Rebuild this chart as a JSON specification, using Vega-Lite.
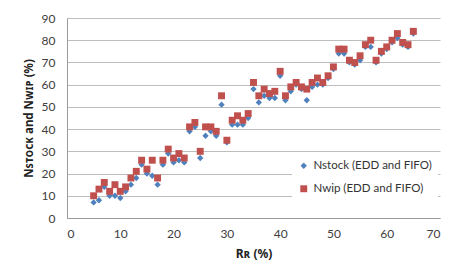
{
  "$schema": "https://vega.github.io/schema/vega-lite/v6.json",
  "autosize": {"type": "none"},
  "padding": {"left": 67, "top": 18, "right": 13, "bottom": 60},
  "width": 373,
  "height": 200,
  "background": "white",
  "config": {
    "font": "Lato",
    "view": {"stroke": null}
  },
  "data": {
    "values": [
      {"R": 5, "series": "Nstock (EDD and FIFO)", "N": 7},
      {"R": 6, "series": "Nstock (EDD and FIFO)", "N": 8},
      {"R": 7, "series": "Nstock (EDD and FIFO)", "N": 14},
      {"R": 8, "series": "Nstock (EDD and FIFO)", "N": 10},
      {"R": 9, "series": "Nstock (EDD and FIFO)", "N": 10},
      {"R": 10, "series": "Nstock (EDD and FIFO)", "N": 9},
      {"R": 11, "series": "Nstock (EDD and FIFO)", "N": 12},
      {"R": 12, "series": "Nstock (EDD and FIFO)", "N": 15},
      {"R": 13, "series": "Nstock (EDD and FIFO)", "N": 18},
      {"R": 14, "series": "Nstock (EDD and FIFO)", "N": 24},
      {"R": 15, "series": "Nstock (EDD and FIFO)", "N": 20},
      {"R": 16, "series": "Nstock (EDD and FIFO)", "N": 19},
      {"R": 17, "series": "Nstock (EDD and FIFO)", "N": 15},
      {"R": 18, "series": "Nstock (EDD and FIFO)", "N": 24},
      {"R": 19, "series": "Nstock (EDD and FIFO)", "N": 29},
      {"R": 20, "series": "Nstock (EDD and FIFO)", "N": 25},
      {"R": 21, "series": "Nstock (EDD and FIFO)", "N": 26},
      {"R": 22, "series": "Nstock (EDD and FIFO)", "N": 25},
      {"R": 23, "series": "Nstock (EDD and FIFO)", "N": 39},
      {"R": 24, "series": "Nstock (EDD and FIFO)", "N": 41},
      {"R": 25, "series": "Nstock (EDD and FIFO)", "N": 27},
      {"R": 26, "series": "Nstock (EDD and FIFO)", "N": 37},
      {"R": 27, "series": "Nstock (EDD and FIFO)", "N": 39},
      {"R": 28, "series": "Nstock (EDD and FIFO)", "N": 37},
      {"R": 29, "series": "Nstock (EDD and FIFO)", "N": 51},
      {"R": 30, "series": "Nstock (EDD and FIFO)", "N": 34},
      {"R": 31, "series": "Nstock (EDD and FIFO)", "N": 42},
      {"R": 32, "series": "Nstock (EDD and FIFO)", "N": 42},
      {"R": 33, "series": "Nstock (EDD and FIFO)", "N": 42},
      {"R": 34, "series": "Nstock (EDD and FIFO)", "N": 45},
      {"R": 35, "series": "Nstock (EDD and FIFO)", "N": 58},
      {"R": 36, "series": "Nstock (EDD and FIFO)", "N": 52},
      {"R": 37, "series": "Nstock (EDD and FIFO)", "N": 55},
      {"R": 38, "series": "Nstock (EDD and FIFO)", "N": 54},
      {"R": 39, "series": "Nstock (EDD and FIFO)", "N": 54},
      {"R": 40, "series": "Nstock (EDD and FIFO)", "N": 64},
      {"R": 41, "series": "Nstock (EDD and FIFO)", "N": 53},
      {"R": 42, "series": "Nstock (EDD and FIFO)", "N": 57},
      {"R": 43, "series": "Nstock (EDD and FIFO)", "N": 60},
      {"R": 44, "series": "Nstock (EDD and FIFO)", "N": 58},
      {"R": 45, "series": "Nstock (EDD and FIFO)", "N": 53},
      {"R": 46, "series": "Nstock (EDD and FIFO)", "N": 59},
      {"R": 47, "series": "Nstock (EDD and FIFO)", "N": 60},
      {"R": 48, "series": "Nstock (EDD and FIFO)", "N": 60},
      {"R": 49, "series": "Nstock (EDD and FIFO)", "N": 63},
      {"R": 50, "series": "Nstock (EDD and FIFO)", "N": 67},
      {"R": 51, "series": "Nstock (EDD and FIFO)", "N": 74},
      {"R": 52, "series": "Nstock (EDD and FIFO)", "N": 74},
      {"R": 53, "series": "Nstock (EDD and FIFO)", "N": 70},
      {"R": 54, "series": "Nstock (EDD and FIFO)", "N": 69},
      {"R": 55, "series": "Nstock (EDD and FIFO)", "N": 71},
      {"R": 56, "series": "Nstock (EDD and FIFO)", "N": 77},
      {"R": 57, "series": "Nstock (EDD and FIFO)", "N": 77},
      {"R": 58, "series": "Nstock (EDD and FIFO)", "N": 70},
      {"R": 59, "series": "Nstock (EDD and FIFO)", "N": 74},
      {"R": 60, "series": "Nstock (EDD and FIFO)", "N": 76},
      {"R": 61, "series": "Nstock (EDD and FIFO)", "N": 79},
      {"R": 62, "series": "Nstock (EDD and FIFO)", "N": 81},
      {"R": 63, "series": "Nstock (EDD and FIFO)", "N": 78},
      {"R": 64, "series": "Nstock (EDD and FIFO)", "N": 77},
      {"R": 65, "series": "Nstock (EDD and FIFO)", "N": 83},
      {"R": 5, "series": "Nwip (EDD and FIFO)", "N": 10},
      {"R": 6, "series": "Nwip (EDD and FIFO)", "N": 13},
      {"R": 7, "series": "Nwip (EDD and FIFO)", "N": 16},
      {"R": 8, "series": "Nwip (EDD and FIFO)", "N": 12},
      {"R": 9, "series": "Nwip (EDD and FIFO)", "N": 15},
      {"R": 10, "series": "Nwip (EDD and FIFO)", "N": 12},
      {"R": 11, "series": "Nwip (EDD and FIFO)", "N": 14},
      {"R": 12, "series": "Nwip (EDD and FIFO)", "N": 18},
      {"R": 13, "series": "Nwip (EDD and FIFO)", "N": 21},
      {"R": 14, "series": "Nwip (EDD and FIFO)", "N": 26},
      {"R": 15, "series": "Nwip (EDD and FIFO)", "N": 22},
      {"R": 16, "series": "Nwip (EDD and FIFO)", "N": 26},
      {"R": 17, "series": "Nwip (EDD and FIFO)", "N": 18},
      {"R": 18, "series": "Nwip (EDD and FIFO)", "N": 26},
      {"R": 19, "series": "Nwip (EDD and FIFO)", "N": 31},
      {"R": 20, "series": "Nwip (EDD and FIFO)", "N": 27},
      {"R": 21, "series": "Nwip (EDD and FIFO)", "N": 29},
      {"R": 22, "series": "Nwip (EDD and FIFO)", "N": 27},
      {"R": 23, "series": "Nwip (EDD and FIFO)", "N": 41},
      {"R": 24, "series": "Nwip (EDD and FIFO)", "N": 43},
      {"R": 25, "series": "Nwip (EDD and FIFO)", "N": 30},
      {"R": 26, "series": "Nwip (EDD and FIFO)", "N": 41},
      {"R": 27, "series": "Nwip (EDD and FIFO)", "N": 41},
      {"R": 28, "series": "Nwip (EDD and FIFO)", "N": 39},
      {"R": 29, "series": "Nwip (EDD and FIFO)", "N": 55},
      {"R": 30, "series": "Nwip (EDD and FIFO)", "N": 35},
      {"R": 31, "series": "Nwip (EDD and FIFO)", "N": 44},
      {"R": 32, "series": "Nwip (EDD and FIFO)", "N": 46},
      {"R": 33, "series": "Nwip (EDD and FIFO)", "N": 44},
      {"R": 34, "series": "Nwip (EDD and FIFO)", "N": 47},
      {"R": 35, "series": "Nwip (EDD and FIFO)", "N": 61},
      {"R": 36, "series": "Nwip (EDD and FIFO)", "N": 55},
      {"R": 37, "series": "Nwip (EDD and FIFO)", "N": 58},
      {"R": 38, "series": "Nwip (EDD and FIFO)", "N": 56},
      {"R": 39, "series": "Nwip (EDD and FIFO)", "N": 57},
      {"R": 40, "series": "Nwip (EDD and FIFO)", "N": 66},
      {"R": 41, "series": "Nwip (EDD and FIFO)", "N": 55},
      {"R": 42, "series": "Nwip (EDD and FIFO)", "N": 59},
      {"R": 43, "series": "Nwip (EDD and FIFO)", "N": 61},
      {"R": 44, "series": "Nwip (EDD and FIFO)", "N": 59},
      {"R": 45, "series": "Nwip (EDD and FIFO)", "N": 58},
      {"R": 46, "series": "Nwip (EDD and FIFO)", "N": 61},
      {"R": 47, "series": "Nwip (EDD and FIFO)", "N": 63},
      {"R": 48, "series": "Nwip (EDD and FIFO)", "N": 61},
      {"R": 49, "series": "Nwip (EDD and FIFO)", "N": 64},
      {"R": 50, "series": "Nwip (EDD and FIFO)", "N": 68},
      {"R": 51, "series": "Nwip (EDD and FIFO)", "N": 76},
      {"R": 52, "series": "Nwip (EDD and FIFO)", "N": 76},
      {"R": 53, "series": "Nwip (EDD and FIFO)", "N": 71},
      {"R": 54, "series": "Nwip (EDD and FIFO)", "N": 70},
      {"R": 55, "series": "Nwip (EDD and FIFO)", "N": 73},
      {"R": 56, "series": "Nwip (EDD and FIFO)", "N": 78},
      {"R": 57, "series": "Nwip (EDD and FIFO)", "N": 80},
      {"R": 58, "series": "Nwip (EDD and FIFO)", "N": 71},
      {"R": 59, "series": "Nwip (EDD and FIFO)", "N": 75},
      {"R": 60, "series": "Nwip (EDD and FIFO)", "N": 77},
      {"R": 61, "series": "Nwip (EDD and FIFO)", "N": 80},
      {"R": 62, "series": "Nwip (EDD and FIFO)", "N": 83},
      {"R": 63, "series": "Nwip (EDD and FIFO)", "N": 79},
      {"R": 64, "series": "Nwip (EDD and FIFO)", "N": 78},
      {"R": 65, "series": "Nwip (EDD and FIFO)", "N": 84}
    ]
  },
  "mark": {"type": "point", "filled": true, "opacity": 1},
  "encoding": {
    "x": {
      "field": "R",
      "type": "quantitative",
      "scale": {"domain": [0, 70], "nice": false},
      "axis": {
        "values": [0, 10, 20, 30, 40, 50, 60, 70],
        "title": "Rʀ (%)",
        "titleFont": "Noto Sans",
        "titleFontSize": 12,
        "titleFontWeight": "bold",
        "titleColor": "#222222",
        "titlePadding": 9,
        "grid": false,
        "ticks": false,
        "domainColor": "#9a9a9a",
        "labelFontSize": 12,
        "labelColor": "#404040",
        "labelPadding": 10,
        "labelFont": "Lato"
      }
    },
    "y": {
      "field": "N",
      "type": "quantitative",
      "scale": {"domain": [0, 90], "nice": false},
      "axis": {
        "values": [0, 10, 20, 30, 40, 50, 60, 70, 80, 90],
        "title": "Nꜱᴛᴏᴄᴋ and Nᴡɪᴘ (%)",
        "titleFont": "Noto Sans",
        "titleFontSize": 11.5,
        "titleFontWeight": "bold",
        "titleColor": "#222222",
        "titlePadding": 7,
        "titleLimit": 400,
        "grid": true,
        "gridColor": "#bdbdbd",
        "ticks": false,
        "domainColor": "#9a9a9a",
        "labelFontSize": 12,
        "labelColor": "#404040",
        "labelPadding": 12,
        "labelFont": "Lato"
      }
    },
    "color": {
      "field": "series",
      "type": "nominal",
      "scale": {"domain": ["Nstock (EDD and FIFO)", "Nwip (EDD and FIFO)"], "range": ["#4F81BD", "#C0504D"]},
      "legend": {
        "title": null,
        "orient": "none",
        "legendX": 225,
        "legendY": 136,
        "fillColor": "white",
        "padding": 6,
        "labelFont": "Lato",
        "labelFontSize": 11.5,
        "labelColor": "#333333",
        "labelLimit": 300,
        "symbolSize": 20,
        "rowPadding": 10,
        "labelOffset": 4
      }
    },
    "shape": {
      "field": "series",
      "type": "nominal",
      "scale": {"domain": ["Nstock (EDD and FIFO)", "Nwip (EDD and FIFO)"], "range": ["diamond", "square"]},
      "legend": null
    },
    "size": {
      "field": "series",
      "type": "nominal",
      "scale": {"domain": ["Nstock (EDD and FIFO)", "Nwip (EDD and FIFO)"], "range": [40, 48]},
      "legend": null
    }
  }
}
